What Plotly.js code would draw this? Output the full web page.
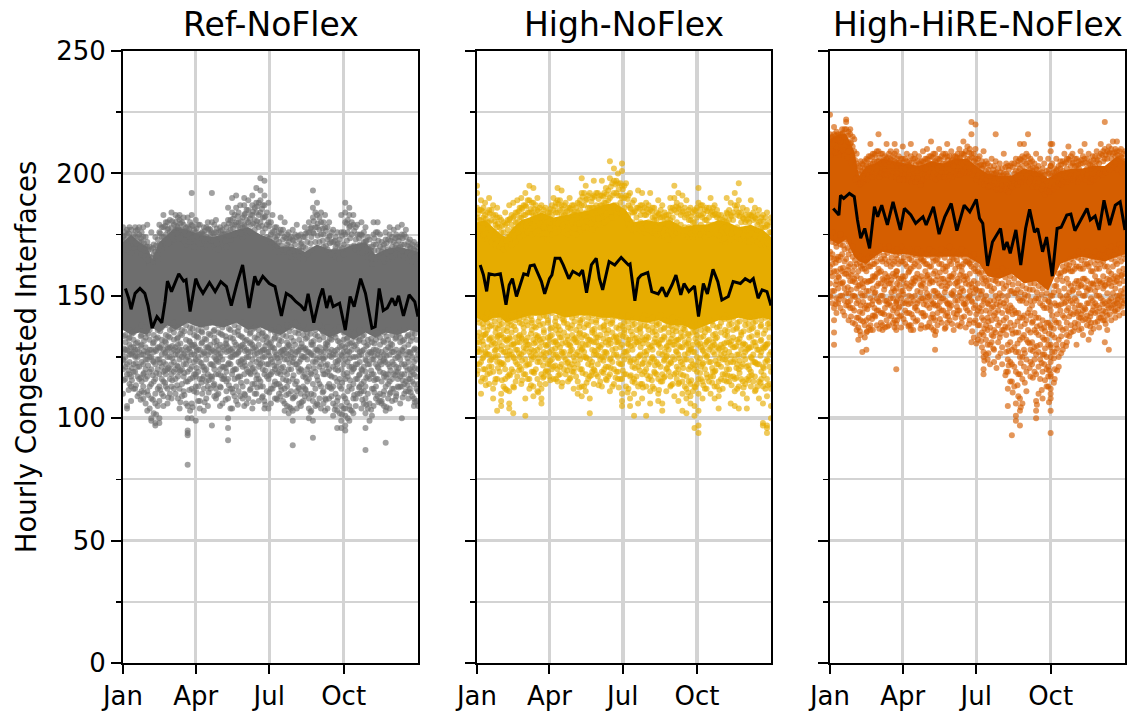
<!DOCTYPE html>
<html><head><meta charset="utf-8">
<script src="https://cdn.plot.ly/plotly-3.0.1.min.js"></script>
<style>html,body{margin:0;padding:0;background:#fff}#c{width:1127px;height:713px}</style>
</head><body><div id="c"></div>
<script>
const panelTitles = ["Ref-NoFlex","High-NoFlex","High-HiRE-NoFlex"];
const monthDays = [0,90,181,273];
const monthNames = ["Jan","Apr","Jul","Oct"];
const yMajor = [0,50,100,150,200,250];

// Dense core of each cloud, read as an upper and lower edge
const coreDays = [0,10,20,30,36,45,55,65,80,95,110,125,140,155,170,185,195,210,225,240,255,270,285,300,312,325,340,355,365];
const refCoreUp = [172,175,172,170,165,172,175,178,177,175,174,175,177,178,175,173,170,170,168,171,169,169,171,172,167,169,170,169,168];
const refCoreLo = [136,134,135,134,137,135,138,136,139,137,138,137,139,136,137,135,134,137,135,136,133,135,132,135,133,135,134,136,135];
const highCoreUp = [180,181,178,175,174,178,181,182,184,182,183,184,185,187,188,185,180,181,180,181,178,179,179,181,180,178,179,177,174];
const highCoreLo = [141,139,141,141,139,140,141,142,142,143,141,142,142,141,141,140,140,139,140,138,138,136,138,140,140,141,140,141,140];
const hireCoreUp = [214,216,216,209,199,203,204,206,205,204,203,205,204,206,206,202,200,199,199,202,201,198,201,202,202,203,203,207,205];
const hireCoreLo = [173,171,173,166,164,163,166,168,167,167,166,166,166,166,166,163,158,157,159,155,156,152,163,165,166,165,164,166,167];

// Daily running line
const refLineDays = [3,7,10,15,21,27,31,36,42,48,52,55,60,69,75,78,83,90,94,99,107,114,121,128,134,141,148,151,156,163,167,173,181,188,196,202,208,214,220,225,229,236,243,247,252,256,260,268,275,281,286,294,300,308,312,317,322,327,333,337,341,347,354,361,365];
const refLine = [153,149,144.5,151,153,151,146,136.8,141.5,139,147.6,156,151.7,159,156,156.5,143.6,157,153.8,151,155.4,151.7,155.8,153.8,146,155,162.6,156.5,145,158,154.4,158,155,153.8,141.8,151,149.7,147.6,146,144,150.8,139,149,153,145,150,145.6,147,136,149.7,145.6,157,151,136.8,137.4,153,144,145,149,146,150,141.8,150.4,147.6,141.5];
const highLineDays = [4,8,12,15,22,29,32,36,40,44,49,55,58,63,66,71,76,80,84,90,93,97,103,107,114,119,127,131,136,142,148,152,156,164,171,179,188,190,196,200,204,212,217,225,230,235,242,247,253,257,263,270,275,281,286,293,299,304,312,318,327,333,339,343,349,354,360,365];
const highLine = [162.6,158.5,151.8,159,158.5,159,153.8,146.3,154.4,157,149.7,155.8,159,158.5,162.3,162.6,159,155.8,150.8,157,158.5,165.3,165.3,162.6,157,160,158.5,160.5,151.3,162.6,165.3,157,152.4,164,162.6,165.7,162.6,163,148,157,158.5,159.5,151.7,150.8,153.5,149.7,154.4,158.5,150.4,155,151.7,154,141.5,155,150.8,160.8,155.8,148.3,149.7,155.8,155,157,155.8,157,149,152.4,151.7,146];
const hireLineDays = [4,11,13,17,24,30,34,38,43,49,55,59,64,71,78,87,92,100,106,115,119,128,135,142,150,157,166,173,181,185,189,195,201,206,211,215,219,223,230,236,242,247,253,257,263,268,275,281,286,293,298,303,309,318,322,328,333,339,346,353,359,365];
const hireLine = [185.7,183,191,189.8,191.8,190.5,181,173.5,177.5,169.4,186.4,182.3,187,179,188.4,176.9,185.7,183,179.6,182.3,178.9,186.4,175.2,182.3,187.7,176.6,187,184.3,189.4,181.6,179.6,162.2,172,174.8,177.5,168.7,172,167.3,176.9,162.6,177.5,185.3,176,177.5,168,174,158,177.5,178,183,183.4,176.6,180,185.7,181,182.6,176.9,189,178.9,187,188.4,176.9];

// Separate points around the core: one list of values per day
const pointDaysA = [0,5,10,15,20,25,30,35,40,45,50,55,60,65,70,75,80,85,90,95,100,105,110,115,120,125,130,135,140,145,150,155,160,165,170,175,180,185,190,195,200,205,210,215,220,225,230,235,240,245,250,255,260,265,270,275,280,285,290,295,300,305,310,315,320,325,330,335,340,345,350,355,360,365];
const pointDaysB = [3,8,13,18,23,28,33,38,43,48,53,58,63,68,73,78,83,88,93,98,103,108,113,118,123,128,133,138,143,148,153,158,163,168,173,178,183,188,193,198,203,208,213,218,223,228,233,238,243,248,253,258,263,268,273,278,283,288,293,298,303,308,313,318,323,328,333,338,343,348,353,358,363];
const pointDaysC = [1,7,11,16,22,26,31,37,41,46,52,56,61,67,71,76,82,86,91,97,101,106,112,116,121,127,131,136,142,146,151,157,161,166,172,176,181,187,191,196,202,206,211,217,221,226,232,236,241,247,251,256,262,266,271,277,281,286,292,296,301,307,311,316,322,326,331,337,341,346,352,356,361];
const refPointsA = [[178,174,172,127,124,120,110],[177,175,171,128,122,118,105,104],[177,173,129,126,117,113,107],[178,174,170,128,125,119,112],[178,175,172,127,121,116,110],[178,174,126,122,118,113,108],[179,172,170,127,124,117,111,103],[176,169,128,125,120,114,108,100,99],[174,168,128,122,116,110,106,98,97],[179,176,171,129,124,118,113,107,100,98],[183,178,174,128,123,119,115,109,105],[180,177,129,125,120,112,106],[184,178,175,127,122,118,113,108],[183,180,177,129,126,120,116,110],[183,181,177,128,124,119,112,104],[182,179,126,122,117,111],[182,178,128,125,119,115,105,100,95,94,81,93],[192,183,179,130,126,121,112,106,100],[181,176,129,124,118,117,113,99],[179,175,128,123,116,107,104],[178,175,127,121,117,112,103],[180,177,129,126,118,113,105],[192,180,176,128,122,116,117,97],[181,176,127,124,118,112,108],[178,174,130,125,120,113,105],[179,175,128,121,117,116],[186,181,176,129,122,116,108,100,96,91],[190,184,179,127,125,118,112,104],[191,186,180,130,126,120,113,107],[187,178,128,122,117,109],[190,187,183,179,129,123,118,110,105],[189,185,180,127,125,119,108],[191,187,183,130,124,120,114,104],[194,188,184,179,128,123,116,110],[198,193,189,184,180,127,122,115,113],[197,191,187,182,128,125,118,107,104],[188,180,127,122,116,104],[183,176,129,123,119,112],[178,173,126,121,114,108],[182,177,127,125,118,113,109],[180,174,128,124,119,112,106,103],[176,172,130,126,120,115,110,102],[177,173,128,123,116,108,103,89,99],[179,174,127,122,115,111,104],[175,171,129,124,120,110,105],[178,174,128,125,118,112,109],[180,176,127,121,116,108,104,100],[193,186,182,176,130,123,114,107,99,92],[188,183,178,128,124,117,106],[184,180,175,127,122,113,104],[183,178,129,125,118,108,103],[180,174,127,120,114,108],[177,172,126,121,113,106,101],[176,171,128,122,115,107,103,96],[183,176,126,120,112,105,99,96],[188,184,180,175,129,124,116,108,104,101,97,95],[186,183,178,127,121,113,105,99],[183,179,125,120,114,108,102],[179,175,128,122,116,110],[180,175,126,120,114,111,104],[178,172,124,119,113,108,102,96,87],[173,169,127,122,116,106,99],[180,175,171,128,124,118,112,105],[180,176,126,121,116,109],[172,168,127,122,115,107,106],[176,173,128,123,118,113,103,90],[178,175,126,121,115,110,104],[177,172,127,122,118,112],[178,174,125,119,113,116],[179,175,171,128,122,118,113,100],[177,174,126,121,115,111],[173,170,127,120,116,112],[172,169,128,123,118,114,108,105],[171,168,126,120,114,111,105]];
const refPointsB = [[176,173,169,137,134,131,128,125,121,116],[178,172,168,136,133,130,126,123,118,114],[175,171,169,135,132,129,127,122,119,112],[177,174,170,136,131,128,125,121,117,109],[176,172,167,138,134,130,126,123,115,111],[174,170,166,137,133,129,124,120,116,106],[170,166,163,136,132,128,125,119,113,104],[171,167,164,138,134,131,127,123,115,102],[173,169,165,136,133,129,124,120,112,105],[178,174,169,137,132,130,126,121,116,110],[180,175,171,138,134,131,127,122,118,113],[181,176,172,136,133,129,125,120,116,110],[179,176,173,139,135,132,128,123,119,112],[182,178,174,137,133,130,126,121,117,108],[180,177,173,136,134,128,125,120,114,109],[178,175,171,138,132,129,124,122,115,106],[180,176,172,137,135,131,127,120,116,103],[177,174,170,139,134,130,126,123,118,111],[179,175,172,136,133,128,125,119,113,107],[176,173,170,138,135,131,126,121,116,110],[178,174,171,137,132,129,124,120,115,108],[177,175,170,139,134,130,127,122,117,112],[179,174,171,136,133,131,125,120,114,109],[176,173,169,138,135,128,126,123,118,110],[177,175,172,137,134,129,124,121,116,106],[178,174,170,139,132,130,127,119,115,111],[181,177,173,136,133,128,125,122,112,104],[183,179,175,138,135,131,126,120,116,109],[184,180,176,137,134,129,127,123,117,111],[182,178,174,139,133,130,124,121,113,108],[185,181,177,136,132,128,125,120,115,106],[183,179,176,138,135,131,127,122,118,112],[186,181,177,137,133,129,126,119,114,110],[188,183,178,136,134,130,124,121,116,107],[187,182,176,135,132,128,125,120,113,109],[184,179,174,137,133,131,127,122,117,111],[180,175,172,136,131,129,124,118,112,106],[178,174,170,135,133,127,125,120,115,108],[176,172,168,137,132,130,123,119,114,110],[177,173,169,136,134,128,126,121,116,107],[175,171,168,138,131,129,124,118,113,105],[174,170,166,137,133,127,125,120,111,104],[175,171,167,139,135,130,126,122,114,109],[173,169,166,136,132,128,123,119,112,106],[174,170,165,138,134,129,125,117,113,107],[176,172,167,135,133,127,124,120,115,110],[178,174,169,137,131,130,126,118,110,103],[184,178,172,136,134,128,123,119,112,105],[182,177,172,138,132,129,125,121,114,108],[180,175,170,135,133,127,124,118,111,106],[178,173,169,137,131,130,122,119,113,104],[176,172,167,134,132,128,125,117,112,109],[174,170,166,136,133,126,123,120,110,105],[173,169,165,137,131,129,124,116,113,102],[176,171,167,135,132,127,122,118,109,104],[181,176,170,133,130,126,123,117,111,100],[180,175,170,135,131,128,121,119,112,103],[178,173,169,133,130,125,122,116,108,105],[175,171,168,136,132,127,123,118,113,110],[176,172,169,134,131,128,121,115,111,106],[174,170,166,132,130,126,122,117,110,104],[170,166,163,135,131,127,124,118,112,101],[176,171,165,134,132,128,122,116,113,108],[175,170,166,133,130,125,123,119,110,107],[171,167,164,135,131,126,124,117,111,105],[173,169,165,136,132,129,122,118,114,108],[174,170,166,134,130,127,123,116,112,107],[175,171,167,135,133,128,121,119,110,109],[174,170,167,133,131,126,124,117,113,106],[175,171,166,136,132,129,122,118,114,110],[172,168,165,134,130,127,123,116,111,108],[171,167,164,135,133,125,121,119,115,109],[170,166,163,137,132,128,124,117,112,107]];
const refPointsC = [[174.5,170.5,133.5,128.5,123.5,115.5],[175.5,169.5,132.5,127.5,119.5,111.5],[172.5,167.5,134.5,126.5,120.5,115.5],[176.5,171.5,130.5,125.5,122.5,113.5],[173.5,169.5,133.5,129.5,116.5,107.5],[171.5,168.5,131.5,127.5,118.5,110.5],[168.5,164.5,134.5,126.5,121.5,109.5],[169.5,165.5,130.5,123.5,117.5,107.5],[170.5,166.5,132.5,127.5,118.5,101.5],[175.5,170.5,135.5,128.5,122.5,111.5],[178.5,172.5,131.5,126.5,119.5,114.5],[177.5,171.5,133.5,128.5,120.5,108.5],[180.5,174.5,136.5,129.5,124.5,115.5],[178.5,175.5,132.5,127.5,121.5,113.5],[179.5,173.5,134.5,130.5,119.5,106.5],[176.5,172.5,135.5,126.5,118.5,109.5],[177.5,174.5,131.5,128.5,123.5,111.5],[178.5,173.5,136.5,129.5,116.5,104.5],[177.5,174.5,133.5,127.5,120.5,110.5],[175.5,171.5,135.5,130.5,122.5,114.5],[176.5,172.5,132.5,126.5,119.5,106.5],[177.5,173.5,134.5,128.5,115.5,110.5],[175.5,172.5,135.5,127.5,121.5,113.5],[177.5,171.5,131.5,129.5,123.5,109.5],[176.5,173.5,134.5,126.5,117.5,112.5],[175.5,172.5,133.5,130.5,120.5,107.5],[179.5,174.5,136.5,127.5,122.5,113.5],[181.5,177.5,132.5,128.5,119.5,110.5],[182.5,178.5,135.5,126.5,116.5,105.5],[180.5,175.5,133.5,129.5,123.5,114.5],[183.5,178.5,131.5,127.5,121.5,109.5],[181.5,176.5,134.5,130.5,118.5,111.5],[184.5,179.5,136.5,128.5,120.5,106.5],[186.5,180.5,132.5,126.5,117.5,112.5],[185.5,178.5,134.5,127.5,122.5,108.5],[182.5,177.5,133.5,129.5,119.5,105.5],[178.5,173.5,130.5,125.5,117.5,110.5],[176.5,171.5,132.5,128.5,121.5,113.5],[174.5,170.5,134.5,124.5,118.5,107.5],[175.5,170.5,131.5,127.5,120.5,111.5],[173.5,169.5,133.5,126.5,115.5,109.5],[173.5,167.5,135.5,129.5,122.5,104.5],[172.5,168.5,131.5,124.5,117.5,108.5],[174.5,168.5,134.5,127.5,120.5,112.5],[171.5,168.5,130.5,125.5,119.5,106.5],[175.5,169.5,132.5,128.5,116.5,111.5],[177.5,171.5,134.5,126.5,118.5,102.5],[180.5,175.5,131.5,125.5,120.5,109.5],[179.5,174.5,133.5,127.5,115.5,105.5],[177.5,172.5,135.5,124.5,119.5,110.5],[176.5,170.5,130.5,128.5,121.5,107.5],[174.5,171.5,132.5,125.5,117.5,112.5],[172.5,168.5,134.5,127.5,116.5,103.5],[171.5,167.5,131.5,123.5,119.5,108.5],[174.5,169.5,129.5,125.5,114.5,101.5],[179.5,172.5,132.5,127.5,118.5,106.5],[178.5,173.5,130.5,124.5,115.5,103.5],[176.5,170.5,134.5,129.5,120.5,109.5],[173.5,169.5,131.5,125.5,117.5,112.5],[174.5,167.5,133.5,127.5,119.5,107.5],[172.5,168.5,129.5,123.5,116.5,105.5],[168.5,165.5,132.5,126.5,119.5,103.5],[173.5,168.5,130.5,125.5,115.5,110.5],[172.5,168.5,134.5,127.5,120.5,106.5],[169.5,165.5,131.5,123.5,118.5,109.5],[171.5,167.5,133.5,125.5,116.5,104.5],[172.5,168.5,130.5,128.5,119.5,110.5],[173.5,169.5,132.5,124.5,117.5,107.5],[172.5,169.5,134.5,126.5,120.5,112.5],[173.5,168.5,131.5,127.5,115.5,108.5],[170.5,167.5,133.5,124.5,119.5,113.5],[169.5,166.5,131.5,126.5,117.5,110.5],[168.5,165.5,134.5,128.5,120.5,106.5]];
const highPointsA = [[195,192,186,182,131,127,122,118],[189,185,181,133,128,123,115,110],[188,183,179,134,127,120,116],[190,185,180,132,126,121,114],[187,183,131,125,119,112,108],[186,182,178,133,129,123,116,103],[181,176,134,128,122,110,107,105],[184,179,132,127,120,116,112],[187,181,175,133,126,118,111,106,104],[188,182,177,130,125,119,113,102],[189,184,180,131,128,122,117],[190,186,182,133,126,120,114],[192,187,183,131,124,118,108,101],[195,189,184,130,127,122,116,112],[194,188,183,132,125,119,113,109],[190,185,133,128,123,116,111],[187,182,131,126,118,108,112,106],[186,181,130,124,119,114],[184,180,132,127,122,117],[190,185,131,126,121,116],[194,189,184,130,125,120,115],[193,187,183,133,127,122,113],[188,184,131,124,118],[190,186,130,126,121,116],[187,183,132,125,119,112],[188,184,131,127,122,115,110],[198,192,187,133,128,120,113,109],[195,189,184,130,125,118,111],[192,186,132,124,117,108,102],[197,191,186,131,126,120,114],[192,186,133,128,122,117],[197,191,187,130,125,119,113],[194,188,183,131,127,121,116],[205,198,190,185,132,124,118,111],[202,197,192,187,133,126,120,114],[200,196,191,186,131,125,119,116],[204,201,195,190,130,122,116,110,107,105],[196,191,133,127,118,113],[192,186,132,123,117,108,105],[189,184,130,124,116,110,101],[193,186,131,125,121,113,106],[192,187,133,122,118,114,108],[188,183,132,126,120,113,101],[192,185,129,123,117,111,106],[186,181,131,124,119,112],[189,183,130,122,116,110,107],[187,182,132,126,118,115,106,103],[183,178,129,125,120,111],[190,186,181,131,123,117,113],[195,190,185,130,124,118,109],[192,186,132,126,120,114,107],[191,184,129,122,115,110,103],[189,183,130,124,117,112,108,102],[186,181,128,121,114,109,106],[185,180,127,120,113,105,101,96],[194,188,183,130,123,116,110,103,97,94],[187,182,128,122,115,108],[186,181,131,125,118,112],[190,184,129,123,117,110],[187,183,130,126,119,113,108],[183,178,128,122,115,109,104],[181,177,129,124,118,112],[190,184,180,131,125,120,115],[188,183,130,123,117,106],[192,187,129,124,116,111,105],[196,189,184,131,126,120,113,104],[186,182,130,122,115,110],[185,181,128,121,116,108,104],[189,183,129,125,119,113],[186,182,131,123,117,111],[185,180,128,122,115,108],[183,178,129,121,113,106,98,97],[184,179,130,124,116,109,97,96,94],[182,176,127,119,112,105,100]];
const highPointsB = [[185,181,178,174,142,139,135,131,127,122],[186,182,179,175,141,137,134,130,125,120],[184,180,177,173,143,139,136,129,126,118],[185,181,176,172,141,138,133,130,124,121],[183,179,175,171,142,137,135,128,125,116],[182,178,174,170,140,138,134,131,123,119],[180,176,173,169,141,136,133,127,122,113],[181,177,174,170,139,137,132,129,124,117],[183,179,175,171,142,138,135,130,126,120],[184,180,176,172,140,136,133,128,123,115],[186,182,178,174,143,139,134,131,125,121],[187,183,179,175,141,137,135,129,127,118],[189,184,180,176,142,138,133,130,122,116],[188,184,179,175,140,139,136,128,124,119],[187,183,180,176,143,137,134,131,126,120],[186,182,179,175,141,138,132,129,123,114],[185,182,178,174,142,136,135,127,125,117],[184,181,177,173,140,139,133,130,122,119],[187,183,179,175,143,137,134,128,124,120],[188,184,180,176,141,138,136,131,126,116],[189,185,181,177,142,136,133,129,121,118],[187,183,179,176,140,139,135,127,125,120],[186,182,178,175,143,137,132,130,123,115],[187,184,180,176,141,138,134,128,122,119],[186,183,179,175,142,136,133,131,126,117],[189,185,181,177,140,139,135,129,124,120],[192,187,183,178,143,137,134,127,125,113],[191,186,182,178,141,138,132,130,122,116],[190,186,181,177,142,136,135,128,123,119],[192,187,183,179,140,139,133,131,126,118],[191,187,182,179,143,137,134,129,124,115],[192,188,184,180,141,138,136,127,125,120],[193,189,185,181,142,136,132,130,121,117],[196,191,186,182,140,139,135,128,123,113],[197,192,187,183,143,137,133,131,126,119],[196,191,188,184,141,138,134,129,122,116],[195,190,186,183,139,136,135,127,124,118],[191,187,183,179,142,137,132,130,125,112],[188,184,180,177,140,138,134,128,121,115],[186,182,179,176,141,136,133,131,123,117],[187,183,180,177,139,137,135,129,126,114],[186,183,179,176,142,138,132,127,124,119],[187,184,180,177,140,136,133,130,122,116],[186,182,179,176,141,137,135,128,125,113],[184,181,178,175,139,138,134,131,123,118],[185,182,179,176,142,136,132,129,121,115],[184,180,177,174,140,137,133,127,124,117],[183,179,176,173,138,135,131,128,122,119],[186,182,178,175,141,136,134,130,125,114],[188,184,180,176,139,137,132,127,121,116],[187,183,179,176,140,135,133,129,123,118],[186,182,178,175,138,136,131,126,124,113],[185,181,178,174,139,134,132,128,120,115],[184,180,177,174,137,135,130,127,122,111],[186,182,178,175,138,134,131,125,119,114],[187,183,179,175,139,136,133,129,121,116],[185,181,178,174,137,135,130,126,120,112],[186,182,179,175,140,136,132,128,123,115],[186,183,179,176,138,134,131,127,119,117],[185,182,178,175,141,137,133,129,122,113],[183,179,176,173,139,135,130,126,121,116],[182,178,175,172,142,136,134,128,124,118],[185,181,178,174,140,138,131,127,120,115],[184,181,177,173,141,136,133,129,123,117],[187,183,178,174,139,137,132,126,122,112],[184,180,177,173,142,135,134,128,121,116],[183,180,176,173,140,138,130,127,124,114],[183,180,176,172,141,136,133,129,120,117],[184,181,177,173,139,137,131,126,123,115],[183,179,176,172,142,135,134,128,122,113],[182,178,175,171,140,138,132,127,119,116],[182,178,174,171,141,136,130,129,123,112],[180,176,173,170,139,137,133,126,121,114]];
const highPointsC = [[183.5,176.5,140.5,133.5,128.5,119.5],[184.5,177.5,138.5,131.5,124.5,116.5],[181.5,175.5,140.5,134.5,126.5,113.5],[183.5,174.5,137.5,132.5,123.5,118.5],[180.5,173.5,139.5,130.5,127.5,114.5],[179.5,172.5,136.5,133.5,125.5,120.5],[178.5,171.5,138.5,129.5,122.5,115.5],[179.5,172.5,135.5,131.5,125.5,111.5],[181.5,173.5,139.5,132.5,127.5,117.5],[182.5,174.5,137.5,130.5,124.5,112.5],[184.5,176.5,140.5,133.5,126.5,119.5],[185.5,177.5,138.5,132.5,123.5,115.5],[186.5,178.5,139.5,131.5,128.5,121.5],[185.5,177.5,141.5,134.5,125.5,113.5],[185.5,178.5,137.5,130.5,127.5,118.5],[184.5,176.5,139.5,133.5,124.5,110.5],[183.5,175.5,138.5,132.5,121.5,116.5],[182.5,175.5,141.5,129.5,126.5,119.5],[185.5,177.5,136.5,133.5,123.5,115.5],[186.5,178.5,139.5,131.5,128.5,121.5],[187.5,179.5,137.5,134.5,124.5,117.5],[185.5,178.5,140.5,130.5,126.5,114.5],[184.5,177.5,138.5,133.5,122.5,119.5],[185.5,178.5,136.5,129.5,127.5,116.5],[184.5,177.5,139.5,132.5,123.5,120.5],[187.5,179.5,137.5,134.5,125.5,112.5],[190.5,180.5,140.5,130.5,128.5,118.5],[189.5,180.5,138.5,133.5,124.5,114.5],[188.5,179.5,139.5,131.5,121.5,117.5],[190.5,181.5,136.5,134.5,127.5,119.5],[189.5,181.5,141.5,129.5,125.5,113.5],[190.5,182.5,137.5,132.5,123.5,118.5],[191.5,183.5,139.5,134.5,126.5,115.5],[194.5,184.5,138.5,130.5,124.5,120.5],[195.5,185.5,141.5,133.5,128.5,116.5],[193.5,185.5,136.5,131.5,122.5,112.5],[193.5,184.5,137.5,133.5,125.5,119.5],[189.5,181.5,139.5,130.5,127.5,110.5],[185.5,178.5,135.5,129.5,123.5,117.5],[184.5,177.5,138.5,132.5,120.5,114.5],[185.5,178.5,136.5,131.5,125.5,119.5],[184.5,177.5,140.5,130.5,122.5,112.5],[185.5,178.5,137.5,133.5,127.5,117.5],[184.5,177.5,139.5,129.5,124.5,115.5],[182.5,176.5,135.5,132.5,121.5,118.5],[183.5,177.5,138.5,130.5,126.5,111.5],[182.5,175.5,136.5,133.5,123.5,116.5],[181.5,174.5,139.5,129.5,125.5,120.5],[184.5,176.5,137.5,132.5,122.5,113.5],[186.5,178.5,135.5,131.5,127.5,118.5],[185.5,177.5,138.5,129.5,124.5,114.5],[184.5,176.5,136.5,133.5,120.5,117.5],[183.5,176.5,134.5,130.5,126.5,110.5],[182.5,175.5,137.5,128.5,123.5,115.5],[184.5,176.5,135.5,132.5,121.5,112.5],[185.5,177.5,138.5,130.5,124.5,118.5],[183.5,176.5,133.5,127.5,122.5,113.5],[184.5,177.5,136.5,131.5,125.5,116.5],[184.5,177.5,139.5,129.5,120.5,114.5],[183.5,176.5,134.5,132.5,123.5,119.5],[181.5,174.5,137.5,128.5,124.5,111.5],[180.5,173.5,140.5,130.5,126.5,115.5],[183.5,176.5,135.5,133.5,122.5,117.5],[182.5,175.5,138.5,131.5,125.5,113.5],[185.5,176.5,136.5,129.5,120.5,116.5],[182.5,175.5,139.5,132.5,123.5,118.5],[181.5,174.5,135.5,130.5,125.5,112.5],[181.5,174.5,138.5,128.5,121.5,115.5],[182.5,175.5,136.5,133.5,124.5,117.5],[181.5,174.5,139.5,129.5,122.5,111.5],[180.5,173.5,137.5,131.5,125.5,114.5],[180.5,172.5,134.5,128.5,120.5,117.5],[178.5,171.5,138.5,130.5,123.5,113.5]];
const hirePointsA = [[224,216,214,168,162,155,150],[219,216,214,165,160,152,145,140,135,130],[216,214,166,158,153,147],[218,216,215,167,160,155,150],[222,221,218,165,159,151,146],[218,216,212,163,156,148,145],[214,209,162,157,150,144],[203,200,160,154,148,141,137,132],[204,201,161,155,150,143,127],[206,203,160,152,146,140,135,128],[212,207,204,162,156,149,138,136],[208,205,163,158,151,145,142],[216,209,205,161,155,148,144],[208,205,164,157,150,143,138,136],[212,206,163,156,148,140],[209,206,162,155,149,146],[212,208,205,164,158,152,145,140,137],[207,204,163,157,150,145],[211,206,164,158,152,147],[208,205,162,155,148,143],[212,207,161,154,147,138,136],[208,206,163,156,150,145],[207,204,162,157,148],[209,205,164,155,149,143],[210,206,163,158,151,146],[213,207,162,156,148,141,137],[208,205,160,152,146,140,134,128],[210,206,163,155,150,145],[208,204,161,157,149,144],[212,207,162,154,147,143,139],[209,205,163,158,151,146],[207,205,161,155,148,141],[210,206,162,156,150,144],[213,208,163,158,152,147],[211,206,164,157,149,144],[221,216,208,162,155,148,131],[220,210,206,160,153,146,140],[207,203,159,152,145,138,134],[209,203,155,148,140,134,127,125,120,118],[204,200,154,147,141,136,130,124],[206,200,152,145,140,134,131],[216,205,200,156,150,143,135],[204,199,151,146,139,133],[208,200,153,147,140,136],[203,199,150,144,137,130,124,119,112,105],[204,198,152,145,136,128,122,115,93],[206,201,151,143,135,127,119,106,101,99],[212,206,202,148,141,132,125,118,108,103,97],[212,205,201,149,142,134,128,121],[216,207,203,150,143,136,131],[205,201,146,139,131,122],[208,202,149,141,135,126,118,107,103,100],[206,200,147,138,130,124,116],[204,198,145,137,132,126,122],[206,200,148,139,130,121,117,113],[212,204,200,150,142,134,127],[206,201,154,146,139,130],[205,202,158,150,144,137],[208,204,160,153,147,141],[211,206,161,155,149,145],[208,204,160,152,147],[206,203,162,156,148,143,130],[209,204,161,154,146,141],[212,206,163,157,150,145],[208,204,162,153,147,140,132],[207,203,160,155,148,144],[209,205,161,156,150,146],[212,208,163,155,149,141],[221,210,206,162,154,147,140,131],[211,208,160,155,148,145,128],[213,208,162,157,151,146],[213,209,163,156,150,147],[210,207,164,158,152,148],[209,205,165,159,153,148]];
const hireNarrowDays = [82,273];
const hireNarrow = [[209,160,153,147,136,120],[212,209,203,146,138,129,125,118,112,103,94,108]];
const hirePointsB = [[215,212,209,176,172,167,163,158,152,147],[217,214,210,174,170,165,160,156,149,143],[216,213,209,175,171,166,161,155,150,145],[218,215,211,173,169,164,159,153,148,142],[217,213,209,172,167,162,158,151,146,140],[215,211,207,170,166,160,156,150,145,139],[208,204,198,167,163,158,153,147,141,136],[205,201,196,166,162,157,151,146,140,134],[205,202,198,165,161,156,150,145,138,133],[207,203,199,166,162,156,152,146,141,137],[208,204,200,167,163,158,153,148,142,136],[209,205,201,169,164,159,154,149,144,138],[208,204,200,170,165,160,155,150,143,139],[207,204,201,169,165,159,154,148,145,137],[208,205,201,170,164,158,155,147,142,138],[207,203,200,168,163,159,153,149,144,139],[206,203,200,169,165,160,155,148,143,140],[206,203,199,170,164,157,152,149,142,137],[206,202,199,168,163,158,154,147,144,139],[205,203,199,169,165,160,153,150,143,138],[206,202,198,167,162,157,155,148,141,136],[205,201,198,169,164,159,152,147,144,140],[205,202,197,168,165,158,154,149,143,138],[206,202,199,167,163,160,153,148,142,137],[207,204,200,169,162,157,155,150,145,139],[208,204,200,168,164,159,152,147,141,136],[206,203,199,167,165,158,151,146,143,138],[207,203,200,169,163,157,154,149,144,139],[208,204,200,168,162,160,153,148,142,137],[207,204,199,170,164,158,155,147,145,140],[207,203,200,168,165,159,152,150,143,136],[208,205,201,167,163,157,154,148,144,138],[208,204,201,169,162,160,153,149,141,139],[209,205,202,168,164,158,155,147,145,137],[210,206,202,166,163,159,152,150,143,140],[208,205,201,167,161,156,151,145,139,133],[206,203,199,165,160,155,149,144,138,132],[205,202,198,162,157,152,146,141,135,129],[205,201,197,160,156,150,144,138,132,126],[203,199,195,159,154,148,143,137,130,122],[203,200,196,159,153,148,142,136,128,123],[202,198,194,160,155,149,144,138,131,125],[202,199,195,161,155,150,143,136,129,122],[204,200,195,160,154,148,141,134,127,119],[203,198,194,158,152,146,139,131,123,115],[204,200,196,157,151,144,138,129,121,113],[205,201,197,155,149,143,135,127,118,109],[207,203,198,154,148,141,133,125,116,106],[208,204,199,153,147,140,132,124,119,111],[206,202,198,155,148,142,135,128,123,117],[204,200,196,155,148,143,136,129,124,119],[203,200,196,154,149,141,134,127,121,110],[202,199,195,153,146,140,133,126,119,108],[201,197,193,151,145,139,132,125,120,113],[203,199,194,150,144,137,130,123,117,110],[202,199,195,154,147,140,133,127,120,116],[203,200,196,159,152,146,139,132,125,121],[205,201,197,162,156,149,142,136,130,128],[206,202,198,163,157,150,144,139,134,131],[207,203,199,165,160,154,148,143,138,135],[206,203,199,166,161,155,149,145,139,137],[205,202,198,168,162,156,151,146,141,136],[207,204,200,167,161,157,150,144,140,134],[206,202,199,168,163,156,152,147,142,138],[205,202,198,166,160,155,149,143,139,135],[207,203,199,168,163,158,152,147,143,139],[207,204,200,167,161,156,150,145,141,137],[209,205,201,169,164,158,153,148,144,140],[209,206,202,168,162,157,151,146,142,136],[210,206,203,170,165,159,154,149,145,140],[210,207,204,169,164,158,153,148,144,141],[209,206,203,171,166,160,155,150,146,142],[208,205,202,172,167,161,156,151,147,143]];
const hirePointsC = [[214.5,207.5,173.5,165.5,159.5,149.5],[215.5,208.5,171.5,163.5,154.5,146.5],[213.5,207.5,172.5,164.5,157.5,148.5],[216.5,209.5,170.5,161.5,155.5,143.5],[215.5,206.5,169.5,160.5,153.5,147.5],[212.5,204.5,168.5,158.5,152.5,141.5],[205.5,197.5,164.5,155.5,149.5,138.5],[202.5,195.5,163.5,154.5,143.5,135.5],[203.5,196.5,162.5,153.5,147.5,139.5],[205.5,197.5,163.5,155.5,144.5,135.5],[206.5,198.5,165.5,156.5,146.5,140.5],[207.5,199.5,166.5,157.5,151.5,141.5],[206.5,198.5,167.5,159.5,147.5,136.5],[205.5,199.5,166.5,156.5,152.5,142.5],[206.5,199.5,167.5,157.5,146.5,137.5],[205.5,198.5,165.5,156.5,151.5,141.5],[204.5,198.5,166.5,158.5,147.5,138.5],[204.5,197.5,167.5,154.5,145.5,141.5],[204.5,197.5,165.5,156.5,150.5,140.5],[203.5,197.5,166.5,159.5,146.5,137.5],[204.5,196.5,164.5,155.5,149.5,142.5],[203.5,196.5,166.5,157.5,145.5,139.5],[203.5,195.5,165.5,154.5,151.5,136.5],[204.5,197.5,164.5,156.5,146.5,141.5],[205.5,198.5,166.5,158.5,149.5,137.5],[206.5,198.5,165.5,155.5,146.5,142.5],[204.5,197.5,164.5,156.5,149.5,135.5],[205.5,198.5,166.5,159.5,147.5,140.5],[206.5,198.5,165.5,155.5,151.5,136.5],[205.5,197.5,167.5,156.5,146.5,141.5],[205.5,198.5,165.5,157.5,150.5,138.5],[206.5,199.5,164.5,155.5,145.5,142.5],[206.5,199.5,166.5,158.5,151.5,137.5],[207.5,200.5,165.5,156.5,146.5,141.5],[208.5,200.5,163.5,154.5,149.5,138.5],[206.5,199.5,164.5,153.5,147.5,135.5],[204.5,197.5,162.5,152.5,142.5,130.5],[203.5,196.5,159.5,150.5,143.5,131.5],[203.5,195.5,157.5,148.5,136.5,123.5],[201.5,194.5,156.5,146.5,139.5,126.5],[201.5,194.5,156.5,145.5,133.5,128.5],[200.5,193.5,157.5,146.5,140.5,120.5],[200.5,193.5,158.5,147.5,134.5,126.5],[202.5,193.5,157.5,145.5,137.5,117.5],[201.5,192.5,155.5,143.5,127.5,121.5],[202.5,194.5,154.5,142.5,134.5,110.5],[203.5,195.5,152.5,139.5,130.5,113.5],[205.5,196.5,151.5,137.5,122.5,104.5],[206.5,197.5,150.5,138.5,126.5,114.5],[204.5,196.5,152.5,144.5,130.5,120.5],[202.5,194.5,152.5,139.5,127.5,116.5],[201.5,194.5,151.5,137.5,129.5,105.5],[200.5,193.5,150.5,136.5,122.5,111.5],[199.5,191.5,148.5,135.5,128.5,115.5],[201.5,192.5,147.5,134.5,119.5,106.5],[200.5,193.5,151.5,136.5,124.5,114.5],[201.5,194.5,156.5,142.5,128.5,119.5],[203.5,195.5,159.5,146.5,133.5,126.5],[204.5,196.5,160.5,147.5,136.5,129.5],[205.5,197.5,162.5,151.5,141.5,133.5],[204.5,197.5,163.5,152.5,142.5,135.5],[203.5,196.5,165.5,153.5,143.5,138.5],[205.5,198.5,164.5,154.5,142.5,136.5],[204.5,197.5,165.5,153.5,144.5,140.5],[203.5,196.5,163.5,152.5,141.5,137.5],[205.5,197.5,165.5,154.5,145.5,136.5],[205.5,198.5,164.5,153.5,143.5,139.5],[207.5,199.5,166.5,155.5,146.5,142.5],[207.5,200.5,165.5,154.5,143.5,138.5],[208.5,201.5,167.5,156.5,147.5,142.5],[208.5,202.5,166.5,155.5,146.5,143.5],[207.5,201.5,168.5,157.5,148.5,144.5],[206.5,200.5,169.5,158.5,149.5,145.5]];

const panels = [
  {color:"rgb(110,110,110)", up:refCoreUp, lo:refCoreLo, lx:refLineDays, ly:refLine, sets:[[pointDaysA,refPointsA],[pointDaysB,refPointsB],[pointDaysC,refPointsC]]},
  {color:"rgb(230,172,0)", up:highCoreUp, lo:highCoreLo, lx:highLineDays, ly:highLine, sets:[[pointDaysA,highPointsA],[pointDaysB,highPointsB],[pointDaysC,highPointsC]]},
  {color:"rgb(213,94,0)", up:hireCoreUp, lo:hireCoreLo, lx:hireLineDays, ly:hireLine, sets:[[pointDaysA,hirePointsA],[pointDaysB,hirePointsB],[pointDaysC,hirePointsC],[hireNarrowDays,hireNarrow]]}
];
const W=1127,H=713;
const xSpans=[[123,418],[477,771],[830,1125]];
const traces=[];
const layout={width:W,height:H,margin:{l:0,r:0,t:0,b:0},paper_bgcolor:"#fff",plot_bgcolor:"#fff",
  showlegend:false,font:{family:"DejaVu Sans, sans-serif",color:"#000",size:26},annotations:[]};
panels.forEach((p,i)=>{
  const s=i===0?"":String(i+1);
  const xa="x"+s, ya="y"+s;
  traces.push({x:coreDays,y:p.lo,xaxis:xa,yaxis:ya,mode:"lines",line:{width:0,color:p.color},hoverinfo:"skip"});
  traces.push({x:coreDays,y:p.up,xaxis:xa,yaxis:ya,mode:"lines",line:{width:0,color:p.color},fill:"tonexty",fillcolor:p.color,hoverinfo:"skip"});
  const px=[],py=[];
  p.sets.forEach(([days,vals])=>days.forEach((d,k)=>vals[k].forEach(v=>{px.push(d);py.push(v);})));
  traces.push({x:px,y:py,xaxis:xa,yaxis:ya,mode:"markers",marker:{size:6,color:p.color,opacity:0.65,line:{width:0}}});
  traces.push({x:p.lx,y:p.ly,xaxis:xa,yaxis:ya,mode:"lines",line:{width:3,color:"#000"}});
  layout["xaxis"+s]={domain:[xSpans[i][0]/W,xSpans[i][1]/W],range:[0,365],anchor:ya,
    tickmode:"array",tickvals:monthDays,ticktext:monthNames,ticks:"outside",ticklen:9,tickwidth:2,tickcolor:"#000",
    tickfont:{size:26},showgrid:true,gridcolor:"#d3d3d3",gridwidth:3.5,zeroline:false,
    showline:true,linecolor:"#000",linewidth:2,mirror:true,layer:"above traces"};
  layout["yaxis"+s]={domain:[50/H,662/H],range:[0,250],anchor:xa,
    tickmode:"array",tickvals:yMajor,ticks:"outside",ticklen:10,tickwidth:2,tickcolor:"#000",
    showticklabels:i===0,tickfont:{size:26},showgrid:true,gridcolor:"#d3d3d3",gridwidth:3.5,zeroline:false,
    showline:true,linecolor:"#000",linewidth:2,mirror:true,layer:"above traces",
    minor:{dtick:25,ticks:"outside",ticklen:5,tickwidth:1.5,tickcolor:"#000",showgrid:true,gridcolor:"#d3d3d3",gridwidth:2},
    title:i===0?{text:"Hourly Congested Interfaces",font:{size:27.5},standoff:12}:undefined};
  layout.annotations.push({text:panelTitles[i],xref:"paper",yref:"paper",x:(xSpans[i][0]+xSpans[i][1])/2/W,y:(H-24)/H,
    xanchor:"center",yanchor:"middle",showarrow:false,font:{size:33}});
});
Plotly.newPlot("c",traces,layout,{displayModeBar:false,staticPlot:true});
</script></body></html>
